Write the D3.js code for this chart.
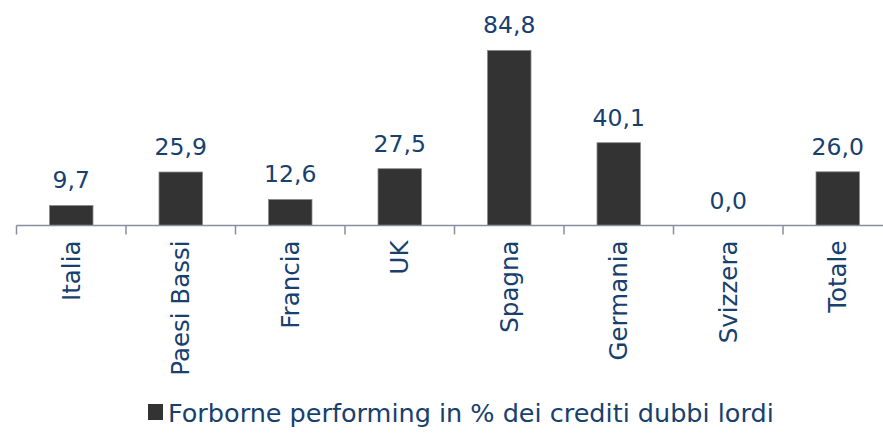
<!DOCTYPE html>
<html>
<head>
<meta charset="utf-8">
<script src="https://cdn.jsdelivr.net/npm/d3@7"></script>
<style>
  body { margin: 0; background: #fff; }
  text { font-family: "DejaVu Sans", sans-serif; }
</style>
</head>
<body>
<div id="chart"></div>
<script>
// data
var categories = ['Italia', 'Paesi Bassi', 'Francia', 'UK', 'Spagna', 'Germania', 'Svizzera', 'Totale'];
var values = [9.7, 25.9, 12.6, 27.5, 84.8, 40.1, 0.0, 26.0];
var seriesName = 'Forborne performing in % dei crediti dubbi lordi';

var w = 883, h = 435;
var textColor = '#17406e';

var svg = d3.select('#chart')
    .append('svg')
    .attr('width', w)
    .attr('height', h);

// x: band per category, last one runs off the right edge like the original
var x = d3.scaleBand()
    .domain(categories)
    .range([16.5, 16.5 + 109.5 * categories.length])
    .paddingInner(0)
    .paddingOuter(0);

var y = d3.scaleLinear()
    .domain([0, 100])
    .range([225.5, 19]);

var barW = 43.5;

svg.selectAll('rect.bar')
    .data(values)
    .enter()
    .append('rect')
    .attr('class', 'bar')
    .attr('x', (d, i) => x(categories[i]) + x.bandwidth() / 2 - barW / 2)
    .attr('y', d => y(d))
    .attr('width', barW)
    .attr('height', d => y(0) - y(d))
    .attr('fill', '#333333')
    .attr('stroke', d => d > 0 ? '#8a8a8a' : 'none')
    .attr('stroke-width', 0.8);

// value labels
svg.selectAll('text.val')
    .data(values)
    .enter()
    .append('text')
    .attr('class', 'val')
    .attr('x', (d, i) => x(categories[i]) + x.bandwidth() / 2)
    .attr('y', d => y(d) - 17)
    .attr('text-anchor', 'middle')
    .attr('fill', textColor)
    .style('font-size', '23.5px')
    .text(d => d.toFixed(1).replace('.', ','));

// axis line and ticks
var axis = svg.append('g').attr('stroke', '#878ea1').attr('stroke-width', 1.5);
axis.append('line')
    .attr('x1', x.range()[0]).attr('x2', w)
    .attr('y1', y(0)).attr('y2', y(0));
axis.selectAll('line.tick')
    .data(categories)
    .enter()
    .append('line')
    .attr('class', 'tick')
    .attr('x1', d => x(d)).attr('x2', d => x(d))
    .attr('y1', y(0)).attr('y2', y(0) + 9);

// category labels, rotated
svg.selectAll('text.cat')
    .data(categories)
    .enter()
    .append('text')
    .attr('class', 'cat')
    .attr('transform', d => 'translate(' + (x(d) + x.bandwidth() / 2) + ',' + (y(0) + 15) + ') rotate(-90)')
    .attr('text-anchor', 'end')
    .attr('dominant-baseline', 'central')
    .attr('fill', textColor)
    .style('font-size', '24.5px')
    .text(d => d);

// legend
var legend = svg.append('g').attr('transform', 'translate(148,413)');
legend.append('rect')
    .attr('x', 0).attr('y', -9)
    .attr('width', 15).attr('height', 16)
    .attr('fill', '#333333');
legend.append('text')
    .attr('x', 20).attr('y', 0)
    .attr('dominant-baseline', 'central')
    .attr('fill', textColor)
    .style('font-size', '25.5px')
    .text(seriesName);
</script>
</body>
</html>
